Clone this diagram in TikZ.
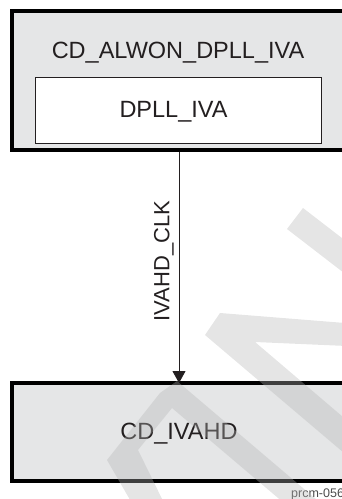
\documentclass[tikz,border=0pt]{standalone}
\usepackage{fontspec}
\setmainfont{Liberation Sans}
\usetikzlibrary{arrows.meta}
\definecolor{boxgray}{RGB}{229,230,231}
\definecolor{ink}{RGB}{35,31,32}
\definecolor{wm}{RGB}{180,180,180}
\begin{document}
\begin{tikzpicture}[x=1pt,y=-1pt,
  cdbox/.style={draw=black, line width=3.5pt, fill=boxgray, outer sep=0pt, inner sep=0pt, anchor=north west, minimum width=348pt},
  innerbox/.style={draw=ink, line width=0.9pt, fill=white, outer sep=0pt, inner sep=0pt, anchor=north west},
  lbl/.style={text=ink, font=\fontsize{23.5}{28}\selectfont, inner sep=0pt, anchor=base},
  conn/.style={draw=ink, line width=0.8pt, -{Triangle[width=13pt,length=12pt]}},
  wmark/.style={fill=wm, opacity=0.35}]
\useasboundingbox (0,0) rectangle (342,499);
\clip (0,0) rectangle (342,499);

\node[cdbox, minimum height=139pt] (alwon) at (12,11) {};
\node[innerbox, minimum width=286.5pt, minimum height=66pt] (dpll) at (35,77.5) {};
\node[cdbox, minimum height=98pt] (ivahd) at (12,383) {};

\node[lbl] (t1) at (178,58.3) {CD\_ALWON\_DPLL\_IVA};
\node[lbl] (t2) at (173.5,117.3) {DPLL\_IVA};
\node[lbl] (t3) at (179,439.3) {CD\_IVAHD};

\coordinate (src) at (179,151.75);
\draw[conn] (src) -- (src |- ivahd.north);
\node[lbl, font=\fontsize{22}{26}\selectfont, rotate=90] (clk) at (169.3,261) {IVAHD\_CLK};

\node[text=black!70, font=\fontsize{12.5}{15}\selectfont, inner sep=0pt, anchor=base west] (ref) at (291,497) {prcm-056};

% watermark
\fill[wmark] (303,208) -- (287,229) -- (370,293) -- (386,272) -- cycle;
\fill[wmark] (220,313) -- (370,325) -- (370,347) -- (255,342) -- (370,440) -- (370,475) -- (205,335) -- cycle;
\fill[wmark] (133,505) -- (107,460) -- (160,393) -- (177,381) -- (390,562) -- (390,593) -- (172,408) -- (138,450) -- (165,505) -- cycle;
\end{tikzpicture}
\end{document}
